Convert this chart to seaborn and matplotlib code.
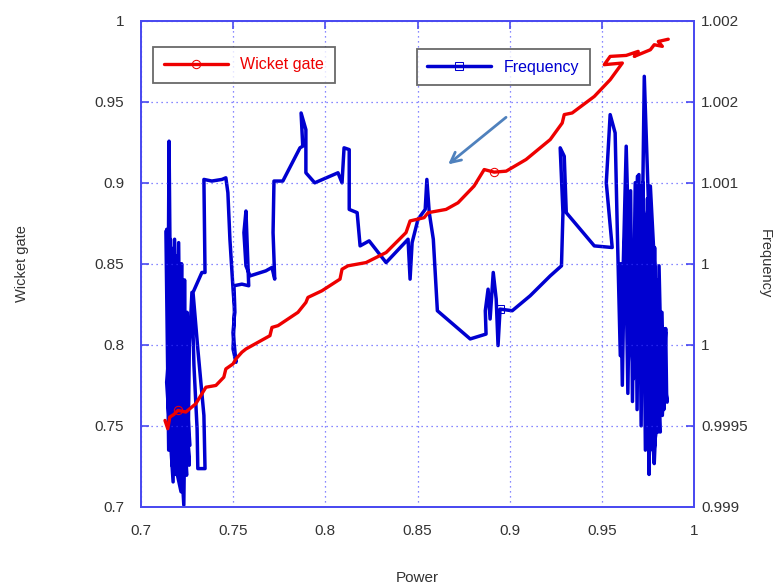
import matplotlib
matplotlib.use("Agg")
import matplotlib.pyplot as plt
from matplotlib.ticker import FixedLocator, FixedFormatter
import seaborn as sns
import pandas as pd

# Wicket gate trajectory (red)
power_wg = [0.7130, 0.7145, 0.7156, 0.7178, 0.7200, 0.7243, 0.7297, 0.7341, 0.7352, 0.7406,
            0.7449, 0.7460, 0.7499, 0.7515, 0.7547, 0.7569, 0.7699, 0.7710, 0.7743, 0.7851,
            0.7894, 0.7905, 0.7981, 0.8079, 0.8090, 0.8122, 0.8220, 0.8329, 0.8437, 0.8459,
            0.8535, 0.8557, 0.8654, 0.8719, 0.8806, 0.8861, 0.8915, 0.8980, 0.9088, 0.9219,
            0.9284, 0.9295, 0.9338, 0.9458, 0.9544, 0.9610, 0.9512, 0.9544, 0.9631, 0.9696,
            0.9675, 0.9762, 0.9783, 0.9827, 0.9805, 0.9859]
wicket_gate = [0.7533, 0.7482, 0.7554, 0.7570, 0.7595, 0.7585, 0.7636, 0.7718, 0.7738, 0.7749,
               0.7800, 0.7851, 0.7882, 0.7913, 0.7954, 0.7974, 0.8056, 0.8107, 0.8118, 0.8200,
               0.8261, 0.8292, 0.8333, 0.8405, 0.8466, 0.8487, 0.8507, 0.8569, 0.8692, 0.8764,
               0.8784, 0.8815, 0.8835, 0.8876, 0.8979, 0.9081, 0.9065, 0.9071, 0.9143, 0.9266,
               0.9368, 0.9420, 0.9430, 0.9532, 0.9635, 0.9738, 0.9728, 0.9779, 0.9785, 0.9810,
               0.9779, 0.9820, 0.9851, 0.9841, 0.9871, 0.9885]

# Frequency trajectory (blue): low-power cluster, middle section, high-power cluster
power_left = [0.7139, 0.7148, 0.7152, 0.7161, 0.7139, 0.7174, 0.7182, 0.7195, 0.7204, 0.7217,
              0.7178, 0.7156, 0.7232, 0.7239, 0.7211, 0.7247, 0.7221, 0.7261, 0.7232, 0.7265,
              0.7135, 0.7150, 0.7160, 0.7170, 0.7180, 0.7190, 0.7200, 0.7210, 0.7220, 0.7228,
              0.7236, 0.7244, 0.7250, 0.7256, 0.7262,
              0.7276, 0.7287, 0.7304, 0.7308, 0.7347, 0.7341, 0.7308, 0.7282, 0.7330, 0.7347]
freq_left = [1.000712, 1.000487, 1.001256, 1.000077, 0.999769, 0.999154, 1.000651, 0.999462, 1.000630, 0.999093,
             0.999298, 1.000569, 0.999011, 0.999667, 1.000487, 0.999195, 1.000282, 0.999257, 0.999974, 0.999380,
             1.000700, 0.999350, 1.000650, 0.999250, 1.000600, 0.999200, 1.000550, 0.999150, 1.000500, 0.999100,
             1.000400, 0.999250, 1.000200, 0.999400, 1.000000,
             1.000323, 0.999872, 0.999482, 0.999236, 0.999236, 0.999564, 0.999974, 1.000323, 1.000446, 1.000446]

power_mid = [0.7341, 0.7384, 0.7439, 0.7460, 0.7471, 0.7482, 0.7499, 0.7508, 0.7499, 0.7515,
             0.7499, 0.7508, 0.7504, 0.7547, 0.7584, 0.7569, 0.7558, 0.7569, 0.7591, 0.7677,
             0.7710, 0.7725, 0.7716, 0.7721, 0.7769, 0.7862, 0.7877, 0.7868, 0.7894, 0.7894,
             0.7942, 0.8068, 0.8090, 0.8101, 0.8129, 0.8129, 0.8172, 0.8188, 0.8237, 0.8329,
             0.8448, 0.8459, 0.8470, 0.8502, 0.8541, 0.8550, 0.8563, 0.8585, 0.8607, 0.8785,
             0.8871, 0.8867, 0.8882, 0.8893, 0.8910, 0.8926, 0.8936, 0.8947, 0.9013, 0.9110,
             0.9219, 0.9280, 0.9288, 0.9273, 0.9295, 0.9306, 0.9458, 0.9555]
freq_mid = [1.001020, 1.001010, 1.001020, 1.001030, 1.000938, 1.000651, 1.000343, 1.000200, 1.000077, 0.999892,
            0.999974, 1.000241, 1.000364, 1.000374, 1.000364, 1.000825, 1.000692, 1.000487, 1.000425, 1.000456,
            1.000477, 1.000405, 1.000692, 1.001010, 1.001010, 1.001215, 1.001225, 1.001430, 1.001327, 1.001061,
            1.000999, 1.001061, 1.000999, 1.001215, 1.001204, 1.000835, 1.000815, 1.000610, 1.000641, 1.000507,
            1.000651, 1.000405, 1.000630, 1.000774, 1.000835, 1.001020, 1.000815, 1.000651, 1.000210, 1.000036,
            1.000066, 1.000210, 1.000343, 1.000159, 1.000446, 1.000282, 0.999995, 1.000220, 1.000210, 1.000302,
            1.000425, 1.000487, 1.000815, 1.001215, 1.001163, 1.000815, 1.000610, 1.000600]

power_right = [0.9523, 0.9544, 0.9571, 0.9583, 0.9599, 0.9614, 0.9631, 0.9653, 0.9670, 0.9679,
               0.9692, 0.9707, 0.9718, 0.9729, 0.9751, 0.9762, 0.9772, 0.9783, 0.9801, 0.9809,
               0.9827, 0.9844,
               0.9600, 0.9610, 0.9625, 0.9640, 0.9655, 0.9665, 0.9680, 0.9690, 0.9700, 0.9712,
               0.9722, 0.9735, 0.9745, 0.9755, 0.9765, 0.9775, 0.9785, 0.9795, 0.9805, 0.9815,
               0.9825, 0.9835, 0.9845, 0.9850,
               0.9853, 0.9707, 0.9762, 0.9718, 0.9783, 0.9816, 0.9794, 0.9762, 0.9740, 0.9783,
               0.9827, 0.9805]
freq_right = [1.000999, 1.001420, 1.001307, 1.000692, 0.999933, 1.000446, 1.001225, 1.000282, 0.999790, 1.000569,
              1.001040, 1.000077, 1.000692, 1.001656, 1.000897, 0.999872, 0.999462, 0.999267, 0.999769, 1.000487,
              0.999564, 1.000077,
              1.000500, 0.999750, 1.000800, 0.999700, 1.000950, 0.999650, 1.001000, 0.999600, 1.001050, 0.999500,
              1.001000, 0.999350, 1.000900, 0.999200, 1.000700, 0.999350, 1.000600, 0.999500, 1.000400, 0.999600,
              1.000200, 0.999600, 1.000100, 0.999700,
              0.999646, 1.000979, 0.999667, 1.000897, 0.999564, 0.999462, 1.000282, 1.000979, 1.000282, 0.999359,
              0.999872, 0.999462]

x_ticks = [0.7, 0.75, 0.8, 0.85, 0.9, 0.95, 1.0]
x_labels = ['0.7', '0.75', '0.8', '0.85', '0.9', '0.95', '1']
wg_ticks = [0.7, 0.75, 0.8, 0.85, 0.9, 0.95, 1.0]
wg_labels = ['0.7', '0.75', '0.8', '0.85', '0.9', '0.95', '1']
freq_ticks = [0.999, 0.9995, 1.0, 1.0005, 1.001, 1.0015, 1.002]
freq_labels = ['0.999', '0.9995', '1', '1', '1.001', '1.002', '1.002']

sns.set_style("white")
plt.rcParams['font.family'] = ['Liberation Sans', 'DejaVu Sans']

wg_df = pd.DataFrame({'Power': power_wg, 'Wicket gate': wicket_gate})
fq_df = pd.DataFrame({'Power': power_left + power_mid + power_right,
                      'Frequency': freq_left + freq_mid + freq_right})

axis_blue = '#4a4af0'
txt = '#333333'

fig = plt.figure(figsize=(7.77, 5.88), dpi=100)
ax = fig.add_axes([0.1815, 0.138, 0.712, 0.827])
ax2 = ax.twinx()

sns.lineplot(data=fq_df, x='Power', y='Frequency', ax=ax2, sort=False, estimator=None,
             color='#0000d0', linewidth=2.5, marker='s', markersize=6, markerfacecolor='none',
             markeredgecolor='#0000d0', markevery=[len(power_left) + 57])
sns.lineplot(data=wg_df, x='Power', y='Wicket gate', ax=ax, sort=False, estimator=None,
             color='#ee0000', linewidth=2.4, marker='o', markersize=6, markerfacecolor='none',
             markeredgecolor='#ee0000', markevery=[4, 36])

# red curve over blue
ax.set_zorder(ax2.get_zorder() + 1)
ax.patch.set_visible(False)

ax.set_xlim(0.7, 1.0)
ax.set_ylim(0.7, 1.0)
ax2.set_ylim(0.999, 1.002)
ax.set_xticks(x_ticks)
ax.set_xticklabels(x_labels)
ax.set_yticks(wg_ticks)
ax.set_yticklabels(wg_labels)
ax2.yaxis.set_major_locator(FixedLocator(freq_ticks))
ax2.yaxis.set_major_formatter(FixedFormatter(freq_labels))

ax.grid(True, linestyle=(0, (1, 3)), color='#3a3aff', linewidth=0.9, alpha=0.8)

for a in (ax, ax2):
    for s in a.spines.values():
        s.set_color(axis_blue)
        s.set_linewidth(1.3)
ax.tick_params(axis='x', direction='in', length=6, width=1.2, color=axis_blue, top=True,
               labelsize=11, labelcolor=txt, pad=12)
ax.tick_params(axis='y', direction='in', length=6, width=1.2, color=axis_blue,
               labelsize=11, labelcolor=txt, pad=12)
ax2.tick_params(axis='y', direction='in', length=6, width=1.2, color=axis_blue,
                labelsize=11, labelcolor=txt, pad=5)

ax.set_xlabel('Power', fontsize=11, color=txt)
ax.set_ylabel('Wicket gate', fontsize=10.5, color=txt)
ax2.set_ylabel('Frequency', fontsize=10.5, color=txt, rotation=270)
ax.xaxis.label.set_va('center')
ax.yaxis.label.set_va('center')
ax2.yaxis.label.set_va('center')
ax.xaxis.set_label_coords(0.5, -0.147)
ax.yaxis.set_label_coords(-0.215, 0.5)
ax2.yaxis.set_label_coords(1.128, 0.5)

# separate legend boxes
red_line = ax.get_lines()[0]
blue_line = ax2.get_lines()[0]
leg_kw = dict(frameon=True, fancybox=False, fontsize=11.5, handlelength=4.0,
              borderpad=0.65, labelcolor='linecolor', loc='upper left')
leg1 = ax.legend([red_line], ['Wicket gate'], bbox_to_anchor=(0.008, 0.962), **leg_kw)
leg1.get_frame().set_edgecolor('#444444')
leg1.get_frame().set_linewidth(1.3)
ax.add_artist(leg1)
leg2 = ax.legend([blue_line], ['Frequency'], bbox_to_anchor=(0.484, 0.957), **leg_kw)
leg2.get_frame().set_edgecolor('#444444')
leg2.get_frame().set_linewidth(1.3)

ax.annotate('', xy=(0.8654, 0.9102), xytext=(0.8991, 0.9414),
            arrowprops=dict(arrowstyle='->', color='#4f81bd', lw=2, mutation_scale=18))

fig.savefig('out.png', dpi=100)
